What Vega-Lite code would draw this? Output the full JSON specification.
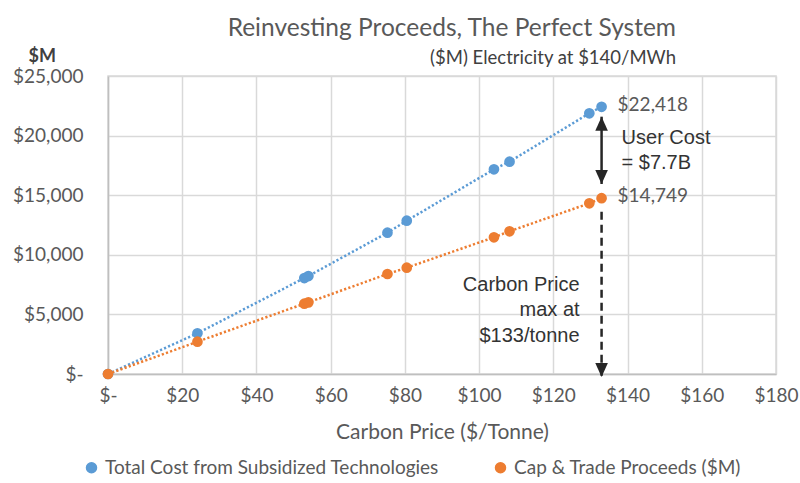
{
  "$schema": "https://vega.github.io/schema/vega-lite/v6.json",
  "width": 668,
  "height": 298,
  "autosize": {"type": "none"},
  "padding": {"left": 108, "top": 76, "right": 24, "bottom": 109},
  "background": "white",
  "title": {
    "text": "Reinvesting Proceeds, The Perfect System",
    "subtitle": "($M) Electricity at $140/MWh",
    "anchor": "end",
    "frame": "group",
    "dx": -100,
    "offset": -21,
    "font": "Lato",
    "fontSize": 24.5,
    "fontWeight": "normal",
    "color": "#595959",
    "subtitleFont": "Lato",
    "subtitleFontSize": 18.5,
    "subtitleColor": "#404040",
    "subtitlePadding": 7
  },
  "datasets": {
    "series": [
      {"price": 0, "series": "Total Cost from Subsidized Technologies", "value": 0},
      {"price": 24.1, "series": "Total Cost from Subsidized Technologies", "value": 3414},
      {"price": 52.9, "series": "Total Cost from Subsidized Technologies", "value": 8050},
      {"price": 54.0, "series": "Total Cost from Subsidized Technologies", "value": 8220},
      {"price": 75.3, "series": "Total Cost from Subsidized Technologies", "value": 11854},
      {"price": 80.5, "series": "Total Cost from Subsidized Technologies", "value": 12861},
      {"price": 104.0, "series": "Total Cost from Subsidized Technologies", "value": 17173},
      {"price": 108.2, "series": "Total Cost from Subsidized Technologies", "value": 17813},
      {"price": 129.7, "series": "Total Cost from Subsidized Technologies", "value": 21871},
      {"price": 133, "series": "Total Cost from Subsidized Technologies", "value": 22418},
      {"price": 0, "series": "Cap & Trade Proceeds ($M)", "value": 0},
      {"price": 24.1, "series": "Cap & Trade Proceeds ($M)", "value": 2710},
      {"price": 52.9, "series": "Cap & Trade Proceeds ($M)", "value": 5900},
      {"price": 54.0, "series": "Cap & Trade Proceeds ($M)", "value": 6010},
      {"price": 75.3, "series": "Cap & Trade Proceeds ($M)", "value": 8389},
      {"price": 80.5, "series": "Cap & Trade Proceeds ($M)", "value": 8918},
      {"price": 104.0, "series": "Cap & Trade Proceeds ($M)", "value": 11468},
      {"price": 108.2, "series": "Cap & Trade Proceeds ($M)", "value": 11971},
      {"price": 129.7, "series": "Cap & Trade Proceeds ($M)", "value": 14320},
      {"price": 133, "series": "Cap & Trade Proceeds ($M)", "value": 14749}
    ],
    "arrows": [
      {"price": 133, "from": 21586, "to": 15940, "style": "solid"},
      {"price": 133, "from": 13620, "to": -250, "style": "dashed"}
    ],
    "heads": [
      {"price": 133, "tip": 21586, "dir": "up"},
      {"price": 133, "tip": 15940, "dir": "down"},
      {"price": 133, "tip": -250, "dir": "down"}
    ]
  },
  "config": {
    "view": {"stroke": "#d9d9d9", "strokeWidth": 1.5},
    "axis": {
      "labelFont": "Lato",
      "labelFontSize": 19,
      "labelColor": "#595959",
      "labelFlush": false,
      "labelOverlap": false,
      "titleFont": "Lato",
      "titleFontWeight": "normal",
      "titleColor": "#595959",
      "gridColor": "#d9d9d9",
      "gridWidth": 1.5,
      "domainColor": "#bfbfbf",
      "domainWidth": 1.5,
      "ticks": false
    }
  },
  "layer": [
    {
      "data": {"name": "series"},
      "mark": {"type": "line", "strokeWidth": 2.5, "strokeDash": [2.2, 2.2]},
      "encoding": {
        "x": {
          "field": "price",
          "type": "quantitative",
          "scale": {"domain": [0, 180], "nice": false},
          "axis": {
            "values": [0, 20, 40, 60, 80, 100, 120, 140, 160, 180],
            "labelExpr": "datum.value == 0 ? '$-' : '$' + format(datum.value, ',')",
            "labelPadding": 12,
            "title": "Carbon Price ($/Tonne)",
            "titleFontSize": 21,
            "titlePadding": 16
          }
        },
        "y": {
          "field": "value",
          "type": "quantitative",
          "scale": {"domain": [0, 25000], "nice": false},
          "axis": {
            "values": [0, 5000, 10000, 15000, 20000, 25000],
            "labelExpr": "datum.value == 0 ? '$-' : '$' + format(datum.value, ',')",
            "labelPadding": 25,
            "title": "$M",
            "titleAngle": 0,
            "titleAlign": "left",
            "titleBaseline": "middle",
            "titleX": -80,
            "titleY": -20,
            "titleFont": "Lato",
            "titleFontSize": 18,
            "titleFontWeight": "bold",
            "titleColor": "#404040"
          }
        },
        "color": {
          "field": "series",
          "type": "nominal",
          "scale": {
            "domain": ["Total Cost from Subsidized Technologies", "Cap & Trade Proceeds ($M)"],
            "range": ["#5b9bd5", "#ed7d31"]
          },
          "legend": {
            "orient": "none",
            "legendX": -26,
            "legendY": 382,
            "direction": "horizontal",
            "title": null,
            "padding": 0,
            "columnPadding": 52,
            "symbolType": "circle",
            "symbolSize": 100,
            "symbolOffset": 0,
            "labelOffset": 4,
            "labelLimit": 500,
            "labelFont": "Lato",
            "labelFontSize": 19,
            "labelColor": "#595959",
            "encode": {
              "symbols": {
                "update": {
                  "fill": {"scale": "color", "field": "value"},
                  "stroke": {"value": "transparent"},
                  "strokeDash": {"value": []},
                  "opacity": {"value": 1}
                }
              }
            }
          }
        }
      }
    },
    {
      "data": {"name": "series"},
      "mark": {"type": "point", "filled": true, "size": 115, "opacity": 1},
      "encoding": {
        "x": {"field": "price", "type": "quantitative"},
        "y": {"field": "value", "type": "quantitative"},
        "color": {"field": "series", "type": "nominal"}
      }
    },
    {
      "data": {"name": "series"},
      "transform": [{"filter": "datum.price == 133"}],
      "mark": {"type": "text", "align": "left", "baseline": "middle", "dx": 16, "dy": -2, "font": "Lato", "fontSize": 19, "color": "#595959"},
      "encoding": {
        "x": {"field": "price", "type": "quantitative"},
        "y": {"field": "value", "type": "quantitative"},
        "text": {"field": "value", "type": "quantitative", "format": "$,.0f"}
      }
    },
    {
      "data": {"name": "arrows"},
      "transform": [{"filter": "datum.style == 'solid'"}],
      "mark": {"type": "rule", "color": "#262626", "strokeWidth": 2.5},
      "encoding": {
        "x": {"field": "price", "type": "quantitative"},
        "y": {"field": "from", "type": "quantitative"},
        "y2": {"field": "to"}
      }
    },
    {
      "data": {"name": "arrows"},
      "transform": [{"filter": "datum.style == 'dashed'"}],
      "mark": {"type": "rule", "color": "#262626", "strokeWidth": 2.5, "strokeDash": [8, 5]},
      "encoding": {
        "x": {"field": "price", "type": "quantitative"},
        "y": {"field": "from", "type": "quantitative"},
        "y2": {"field": "to"}
      }
    },
    {
      "data": {"name": "heads"},
      "mark": {"type": "point", "filled": true, "size": 196, "opacity": 1, "color": "#262626"},
      "encoding": {
        "x": {"field": "price", "type": "quantitative"},
        "y": {"field": "tip", "type": "quantitative"},
        "shape": {
          "field": "dir",
          "type": "nominal",
          "scale": {"domain": ["up", "down"], "range": ["M0,0L0.9,2L-0.9,2Z", "M0,0L-0.9,-2L0.9,-2Z"]},
          "legend": null
        }
      }
    },
    {
      "data": {"values": [{"price": 133, "gap": 18583, "note": "User Cost|= $7.7B"}]},
      "mark": {"type": "text", "align": "left", "baseline": "middle", "dx": 20, "dy": -14, "lineBreak": "|", "lineHeight": 25, "font": "Liberation Sans", "fontSize": 20, "color": "#333333"},
      "encoding": {
        "x": {"field": "price", "type": "quantitative"},
        "y": {"field": "gap", "type": "quantitative"},
        "text": {"field": "note", "type": "nominal"}
      }
    },
    {
      "data": {"values": [{"price": 133, "level": 5400, "note": "Carbon Price|max at|$133/tonne"}]},
      "mark": {"type": "text", "align": "right", "baseline": "middle", "dx": -22, "dy": -25, "lineBreak": "|", "lineHeight": 25.5, "font": "Liberation Sans", "fontSize": 20, "color": "#333333"},
      "encoding": {
        "x": {"field": "price", "type": "quantitative"},
        "y": {"field": "level", "type": "quantitative"},
        "text": {"field": "note", "type": "nominal"}
      }
    }
  ]
}
